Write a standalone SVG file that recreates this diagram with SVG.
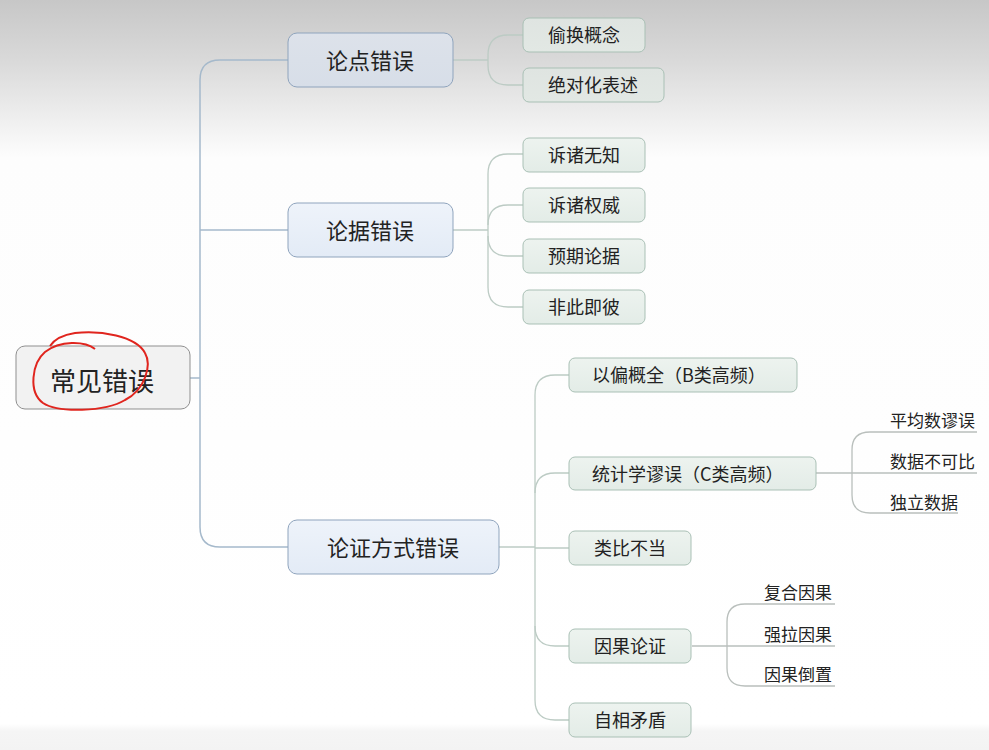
<svg xmlns="http://www.w3.org/2000/svg" width="989" height="750" viewBox="0 0 989 750">
<defs>
<linearGradient id="bg" x1="0" y1="0" x2="0" y2="1">
<stop offset="0" stop-color="#c7c7c7"/>
<stop offset="0.08" stop-color="#d9d9d9"/>
<stop offset="0.21" stop-color="#fdfdfd"/>
<stop offset="0.965" stop-color="#ffffff"/>
<stop offset="0.975" stop-color="#f5f5f5"/>
<stop offset="1" stop-color="#f3f3f3"/>
</linearGradient>
<linearGradient id="l1" x1="0" y1="0" x2="0" y2="1">
<stop offset="0" stop-color="#eef3fa"/>
<stop offset="1" stop-color="#e3ebf6"/>
</linearGradient>
<linearGradient id="l1top" x1="0" y1="0" x2="0" y2="1">
<stop offset="0" stop-color="#dde2ea"/>
<stop offset="1" stop-color="#d7dee8"/>
</linearGradient>
<linearGradient id="lf" x1="0" y1="0" x2="0" y2="1">
<stop offset="0" stop-color="#edf3ef"/>
<stop offset="1" stop-color="#e3ece7"/>
</linearGradient>
<linearGradient id="lftop" x1="0" y1="0" x2="0" y2="1">
<stop offset="0" stop-color="#dfe4e1"/>
<stop offset="1" stop-color="#e2e8e4"/>
</linearGradient>
</defs>
<style>
text{font-family:"Noto Sans CJK SC","Noto Sans",sans-serif;fill:#222;}
.root{fill:#f2f2f2;stroke:#8f8f8f;stroke-width:1;}
.l1{fill:url(#l1);stroke:#8fa4bd;stroke-width:1;}
.lf{fill:url(#lf);stroke:#a9c0b5;stroke-width:1;}
.t1{font-size:22px;text-anchor:middle;}
.t2{font-size:18px;text-anchor:middle;}
.t3{font-size:17px;}
.cm{fill:none;stroke:#a5b9cb;stroke-width:1.5;}
.cl{fill:none;stroke:#bccbc4;stroke-width:1.3;}
.cu{fill:none;stroke:#b9bfbc;stroke-width:1.3;}
</style>
<rect x="0" y="0" width="989" height="750" fill="url(#bg)"/>

<g id="connectors">
<path class="cm" d="M190,378 H200"/>
<path class="cm" d="M288,60 H220 Q200,60 200,80 V527 Q200,547 220,547 H288"/>
<path class="cm" d="M200,230 H288"/>
<path class="cl" d="M453,60 H488"/>
<path class="cl" d="M523,35 H508 Q488,35 488,55 V65 Q488,85 508,85 H523"/>
<path class="cl" d="M453,230 H488"/>
<path class="cl" d="M523,154 H508 Q488,154 488,174 V287 Q488,307 508,307 H523"/>
<path class="cl" d="M523,205 H508 Q488,205 488,225"/>
<path class="cl" d="M523,256 H508 Q488,256 488,236"/>
<path class="cl" d="M499,547 H535"/>
<path class="cl" d="M569,375 H555 Q535,375 535,395 V700 Q535,720 555,720 H569"/>
<path class="cl" d="M569,473 H555 Q535,473 535,493"/>
<path class="cl" d="M535,548 H569"/>
<path class="cl" d="M569,646 H555 Q535,646 535,626"/>
<path class="cu" d="M816,473 H977"/>
<path class="cu" d="M977,432 H870 Q852,432 852,450 V495 Q852,513 870,513 H958"/>
<path class="cu" d="M692,646 H835"/>
<path class="cu" d="M835,604 H745 Q727,604 727,622 V668 Q727,686 745,686 H835"/>
</g>

<g id="root">
<rect class="root" x="16" y="346" width="174" height="63" rx="9"/>
<text x="102" y="391" style="font-size:26px;text-anchor:middle">常见错误</text>
<path d="M95,349 C85,341 60,340 45,352 C32,363 28,392 43,403 C58,413 105,412 125,400 C145,390 152,365 145,353 C136,336 100,330 75,333 C62,335 54,340 50,346" fill="none" stroke="#e0251e" stroke-width="2"/>
</g>

<g id="n-lundian">
<rect x="288" y="33" width="165" height="54" rx="9" fill="url(#l1top)" stroke="#8fa4bd"/>
<text class="t1" x="370" y="69">论点错误</text>
</g>
<g id="n-lunju">
<rect class="l1" x="288" y="203" width="165" height="54" rx="9"/>
<text class="t1" x="370" y="239">论据错误</text>
</g>
<g id="n-lunzheng">
<rect class="l1" x="288" y="520" width="211" height="54" rx="9"/>
<text class="t1" x="393" y="556">论证方式错误</text>
</g>

<g id="n-touhuan">
<rect x="523" y="18" width="122" height="34" rx="6" fill="url(#lftop)" stroke="#a9c0b5"/>
<text class="t2" x="584" y="42">偷换概念</text>
</g>
<g id="n-juedui">
<rect x="523" y="68" width="141" height="34" rx="6" fill="url(#lftop)" stroke="#a9c0b5"/>
<text class="t2" x="593" y="92">绝对化表述</text>
</g>

<g id="n-wuzhi">
<rect class="lf" x="523" y="138" width="122" height="34" rx="6"/>
<text class="t2" x="584" y="162">诉诸无知</text>
</g>
<g id="n-quanwei">
<rect class="lf" x="523" y="188" width="122" height="34" rx="6"/>
<text class="t2" x="584" y="212">诉诸权威</text>
</g>
<g id="n-yuqi">
<rect class="lf" x="523" y="239" width="122" height="34" rx="6"/>
<text class="t2" x="584" y="263">预期论据</text>
</g>
<g id="n-feici">
<rect class="lf" x="523" y="290" width="122" height="34" rx="6"/>
<text class="t2" x="584" y="314">非此即彼</text>
</g>

<g id="n-yipian">
<rect class="lf" x="569" y="358" width="228" height="34" rx="6"/>
<text class="t2" x="592" y="382" style="text-anchor:start">以偏概全（B类高频）</text>
</g>
<g id="n-tongji">
<rect class="lf" x="569" y="457" width="247" height="33" rx="6"/>
<text class="t2" x="592" y="481" style="text-anchor:start">统计学谬误（C类高频）</text>
</g>
<g id="n-leibi">
<rect class="lf" x="569" y="531" width="122" height="34" rx="6"/>
<text class="t2" x="630" y="555">类比不当</text>
</g>
<g id="n-yinguo">
<rect class="lf" x="569" y="629" width="122" height="34" rx="6"/>
<text class="t2" x="630" y="653">因果论证</text>
</g>
<g id="n-zixiang">
<rect class="lf" x="569" y="703" width="122" height="34" rx="6"/>
<text class="t2" x="630" y="727">自相矛盾</text>
</g>

<g id="n-pingjun"><text class="t3" x="890" y="427">平均数谬误</text></g>
<g id="n-bukebi"><text class="t3" x="890" y="468">数据不可比</text></g>
<g id="n-duli"><text class="t3" x="890" y="509">独立数据</text></g>

<g id="n-fuhe"><text class="t3" x="832" y="599" style="text-anchor:end">复合因果</text></g>
<g id="n-qiangla"><text class="t3" x="832" y="641" style="text-anchor:end">强拉因果</text></g>
<g id="n-daozhi"><text class="t3" x="832" y="681" style="text-anchor:end">因果倒置</text></g>
</svg>
